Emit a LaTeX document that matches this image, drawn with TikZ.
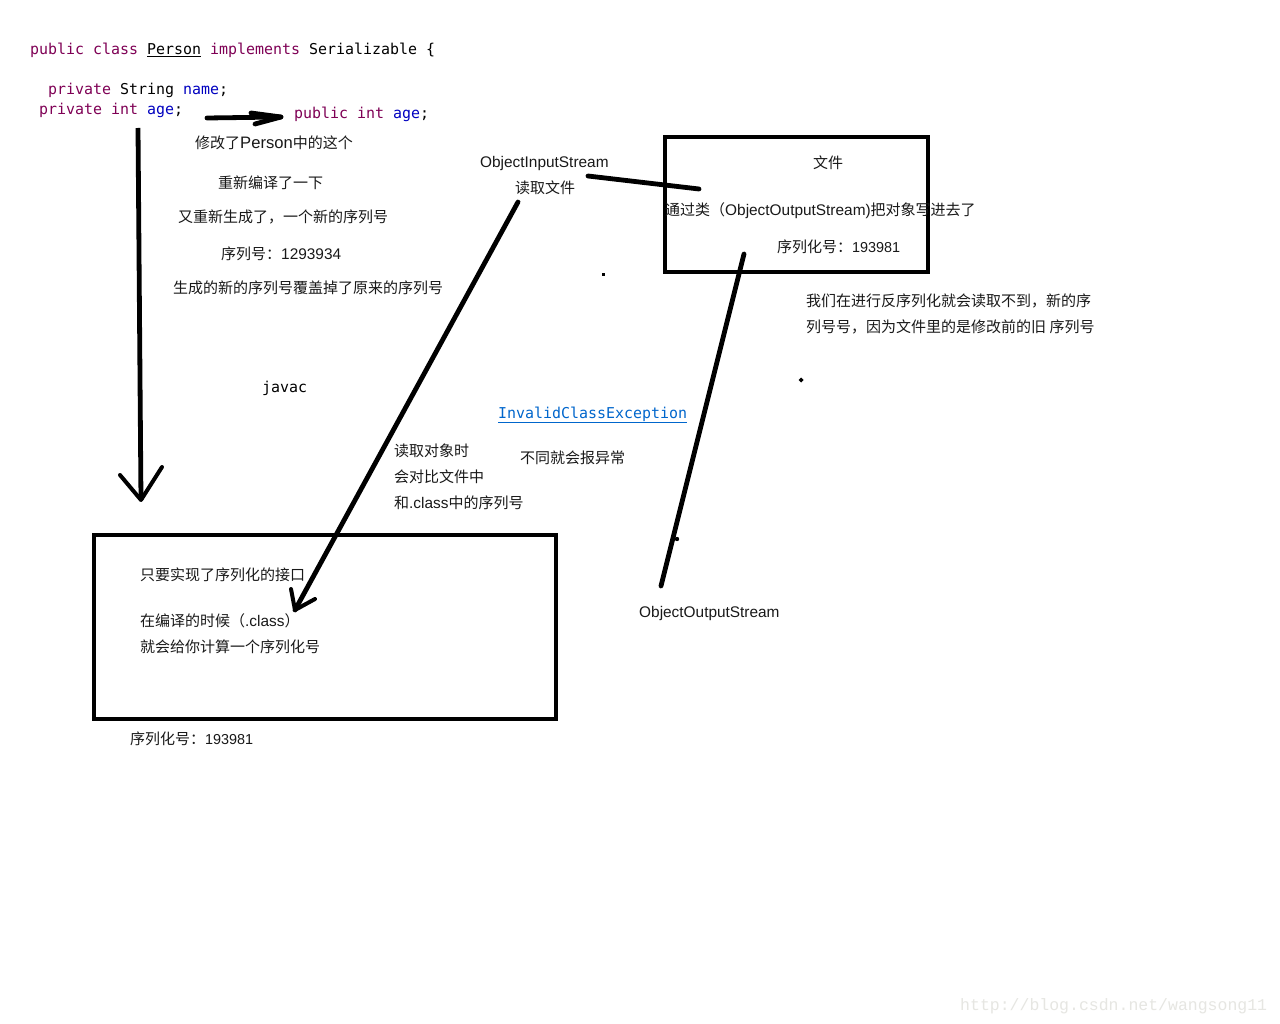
\documentclass[tikz,border=0pt]{standalone}
\usepackage{fontspec}
\setmainfont{Liberation Sans}
\setmonofont{DejaVu Sans Mono}
\newfontfamily\cjk{Noto Sans CJK SC}
\newfontfamily\wmfont{Liberation Mono}
\newcommand{\zh}[1]{{\cjk\fontsize{15}{16}\selectfont #1}}
\newcommand{\nar}[2]{{\fontsize{#1}{16}\selectfont #2}}
\definecolor{kw}{HTML}{7F0055}
\definecolor{fld}{HTML}{0000C0}
\definecolor{lnk}{HTML}{0066CC}
\definecolor{wm}{HTML}{E6E6E2}
\tikzset{
  lbl/.style={anchor=base west,inner sep=0pt,yshift=-1pt,font=\fontsize{15.4}{16}\selectfont,text=black!90},
  code/.style={anchor=base west,inner sep=0pt,yshift=-1pt,font=\ttfamily\fontsize{14.95}{16}\selectfont},
  boxf/.style={draw=black,line width=3.8pt,fill=none,inner sep=0pt,anchor=north west},
  stroke/.style={draw=black,line width=4.8pt,line cap=round,line join=round},
  thinstroke/.style={draw=black,line width=4pt,line cap=round,line join=round},
}
\begin{document}
\begin{tikzpicture}[x=1pt,y=-1pt]
\useasboundingbox[fill=white] (0,0) rectangle (1280,1024);
% boxes
\node[boxf,minimum width=263pt,minimum height=135pt] (filebox) at (663,135) {};
\node[boxf,minimum width=462pt,minimum height=184pt] (classbox) at (92,533) {};
% code
\node[code] (c1) at (30,54) {\textcolor{kw}{public class} \underline{Person} \textcolor{kw}{implements} Serializable \{};
\node[code] (c2) at (48,94) {\textcolor{kw}{private} String \textcolor{fld}{name};};
\node[code] (c3) at (39,114) {\textcolor{kw}{private int} \textcolor{fld}{age};};
\node[code] (c4) at (294,118) {\textcolor{kw}{public int} \textcolor{fld}{age};};
\node[code] (javac) at (262,391) {javac};
\node[code,text=lnk] (exc) at (498,417) {\underline{InvalidClassException}};
% labels
\node[lbl] (t1) at (195,148) {\zh{修改了}\nar{16.6}{Person}\zh{中的这个}};
\node[lbl] (t2) at (218,188) {\zh{重新编译了一下}};
\node[lbl] (t3) at (178,222) {\zh{又重新生成了，一个新的序列号}};
\node[lbl] (t4) at (221,259) {\zh{序列号：}1293934};
\node[lbl] (t5) at (173,293) {\zh{生成的新的序列号覆盖掉了原来的序列号}};
\node[lbl] (t6) at (480,167) {ObjectInputStream};
\node[lbl] (t7) at (515,193) {\zh{读取文件}};
\node[lbl] (t8) at (813,168) {\zh{文件}};
\node[lbl] (t9) at (665,215) {\zh{通过类（}ObjectOutputStream)\zh{把对象写进去了}};
\node[lbl] (t10) at (777,252) {\zh{序列化号：}\nar{14.4}{193981}};
\node[lbl] (t11) at (806,306) {\zh{我们在进行反序列化就会读取不到，新的序}};
\node[lbl] (t12) at (806,332) {\zh{列号号，因为文件里的是修改前的旧 序列号}};
\node[lbl] (t13) at (394,455) {\zh{读取对象时}};
\node[lbl] (t14) at (394,481) {\zh{会对比文件中}};
\node[lbl] (t15) at (394,507) {\zh{和}.class\zh{中的序列号}};
\node[lbl] (t16) at (520,462) {\zh{不同就会报异常}};
\node[lbl] (t17) at (140,579) {\zh{只要实现了序列化的接口}};
\node[lbl] (t18) at (140,625) {\zh{在编译的时候（}.class\zh{）}};
\node[lbl] (t19) at (140,651) {\zh{就会给你计算一个序列化号}};
\node[lbl] (t20) at (130,743) {\zh{序列化号：}\nar{14.4}{193981}};
\node[lbl] (t21) at (639,616) {ObjectOutputStream};
\node[anchor=base west,inner sep=0pt,text=wm,font=\wmfont\fontsize{16.5}{18}\selectfont] (wmk) at (960,1010) {http://blog.csdn.net/wangsong11};
% stroke end points
\coordinate (a0) at (138,128);
\coordinate (a1) at (139,252);
\coordinate (a2) at (140,378);
\coordinate (a3) at (141,500);
\coordinate (a4) at (120,475);
\coordinate (a5) at (162,467);
\coordinate (b0) at (207,118);
\coordinate (b1) at (281,117);
\coordinate (b2) at (251,113);
\coordinate (b3) at (255,124);
\coordinate (d0) at (518,202);
\coordinate (d1) at (295,610);
\coordinate (d2) at (291,589);
\coordinate (d3) at (315,599);
\coordinate (e0) at (588,176);
\coordinate (e1) at (699,189);
\coordinate (f0) at (744,254);
\coordinate (f1) at (661,586);
% strokes
\draw[stroke,line cap=butt] (a0) -- (a1) -- (a2) -- (a3);
\draw[thinstroke] (a4) -- (a3) -- (a5);
\draw[stroke] (b0) -- (b1);
\draw[stroke] (b2) -- (b1) -- (b3);
\draw[stroke] (d0) -- (d1);
\draw[thinstroke] (d2) -- (d1) -- (d3);
\draw[stroke] (e0) -- (e1);
\draw[stroke] (f0) -- (f1);
% specks
\fill[black] (601.5,273.5) rectangle (604.5,276.5);
\fill[black] (801,377.5) -- (803.5,380) -- (801,382.5) -- (798.5,380) -- cycle;
\fill[black] (677,539) circle (2.2pt);
\end{tikzpicture}
\end{document}
